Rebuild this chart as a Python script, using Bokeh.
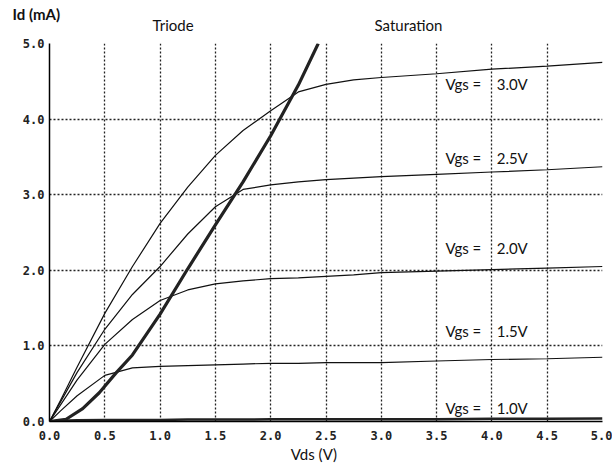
from bokeh.plotting import figure
from bokeh.models import Label, FixedTicker, Range1d, LinearAxis, PrintfTickFormatter
from bokeh.embed import file_html
from bokeh.resources import INLINE

# Vds sample points (V)
vds = [0, 0.1, 0.25, 0.5, 0.75, 1.0, 1.25, 1.5, 1.75, 2.0, 2.25, 2.5, 2.75, 3.0, 3.5, 4.0, 4.5, 5.0]
# Id (mA) for each Vgs
id_vgs30 = [0, 0.28, 0.72, 1.43, 2.05, 2.62, 3.1, 3.52, 3.85, 4.11, 4.36, 4.46, 4.52, 4.55, 4.6, 4.66, 4.7, 4.75]
id_vgs25 = [0, 0.26, 0.65, 1.22, 1.68, 2.05, 2.48, 2.84, 3.07, 3.13, 3.17, 3.2, 3.22, 3.24, 3.27, 3.3, 3.33, 3.37]
id_vgs20 = [0, 0.22, 0.55, 1.02, 1.35, 1.6, 1.74, 1.82, 1.86, 1.89, 1.9, 1.92, 1.94, 1.97, 1.99, 2.01, 2.03, 2.05]
id_vgs15 = [0, 0.14, 0.34, 0.61, 0.71, 0.73, 0.74, 0.75, 0.76, 0.77, 0.77, 0.78, 0.78, 0.78, 0.8, 0.82, 0.83, 0.85]
id_vgs10 = [0, 0.01, 0.015, 0.02, 0.02, 0.02, 0.025, 0.025, 0.025, 0.03, 0.03, 0.03, 0.03, 0.03, 0.03, 0.035, 0.035, 0.04]

# Triode / saturation boundary
vds_edge = [0, 0.15, 0.3, 0.45, 0.6, 0.75, 1.0, 1.25, 1.5, 1.75, 2.0, 2.25, 2.43]
id_edge = [0, 0.03, 0.17, 0.38, 0.64, 0.88, 1.42, 2.02, 2.6, 3.17, 3.78, 4.45, 5.0]

NB = "\u00a0"
curve_labels = ["Vgs =" + NB * 4 + "3.0V", "Vgs =" + NB * 4 + "2.5V", "Vgs =" + NB * 4 + "2.0V",
                "Vgs =" + NB * 4 + "1.5V", "Vgs =" + NB * 4 + "1.0V"]
label_y = [4.46, 3.49, 2.30, 1.20, 0.185]
label_x = 3.58

x_ticks = [0, 0.5, 1.0, 1.5, 2.0, 2.5, 3.0, 3.5, 4.0, 4.5, 5.0]
y_ticks = [0, 1, 2, 3, 4, 5]

region_pos = [1.117, 3.246]
region_names = ["Triode", "Saturation"]
xlabel_pos = [2.39]
xlabel_text = ["Vds (V)"]
ylabel_text = "Id (mA)"

LAB_FONT = "Lato"

p = figure(output_backend="svg", toolbar_location=None,
           frame_width=553, frame_height=378,
           min_border_left=49, min_border_right=10, min_border_top=43, min_border_bottom=45,
           x_range=Range1d(0, 5), y_range=Range1d(0, 5))
p.outline_line_color = None
p.background_fill_color = "white"

for ax in (p.xaxis[0], p.yaxis[0]):
    ax.axis_line_color = "black"
    ax.axis_line_width = 1.5
    ax.major_tick_out = 0
    ax.major_tick_in = 0
    ax.minor_tick_out = 0
    ax.minor_tick_in = 0
    ax.major_label_text_font = "DejaVu Sans Mono"
    ax.major_label_text_font_style = "bold"
    ax.major_label_text_font_size = "12px"
    ax.major_label_text_color = "#222222"

p.xaxis[0].ticker = FixedTicker(ticks=x_ticks)
p.yaxis[0].ticker = FixedTicker(ticks=y_ticks)
p.xaxis[0].formatter = PrintfTickFormatter(format="%.1f")
p.yaxis[0].formatter = PrintfTickFormatter(format="%.1f")
p.xaxis[0].major_label_standoff = 9
p.yaxis[0].major_label_standoff = 5


def text_axis(ticks, names, standoff):
    ax = LinearAxis(ticker=FixedTicker(ticks=ticks),
                    major_label_overrides={t: n for t, n in zip(ticks, names)})
    ax.axis_line_color = None
    ax.major_tick_line_color = None
    ax.minor_tick_line_color = None
    ax.major_tick_out = 0
    ax.major_tick_in = 0
    ax.minor_tick_out = 0
    ax.minor_tick_in = 0
    ax.major_label_standoff = standoff
    ax.major_label_text_font = LAB_FONT
    ax.major_label_text_font_size = "15px"
    ax.major_label_text_color = "#111111"
    return ax


p.add_layout(text_axis(region_pos, region_names, 10), "above")
p.add_layout(text_axis(xlabel_pos, xlabel_text, 2), "below")

p.title.text = ylabel_text
p.title.align = "left"
p.title.offset = -37
p.title.standoff = -20
p.title.vertical_align = "bottom"
p.title.text_font = LAB_FONT
p.title.text_font_size = "15px"
p.title.text_font_style = "bold"
p.title.text_color = "#111111"

for g in (p.xgrid[0], p.ygrid[0]):
    g.grid_line_color = "#222222"
    g.grid_line_dash = "2 2"
    g.grid_line_width = 1.3

for ys in (id_vgs30, id_vgs25, id_vgs20, id_vgs15):
    p.line(vds, ys, line_color="#111111", line_width=1.2)
p.line(vds, id_vgs10, line_color="#222222", line_width=2.5)
p.line(vds_edge, id_edge, line_color="#222222", line_width=3.2)

for t, y in zip(curve_labels, label_y):
    p.add_layout(Label(x=label_x, y=y, text=t, text_font=LAB_FONT, text_font_size="15px",
                       text_baseline="middle", text_color="#111111"))

open("out.html", "w").write(file_html(p, INLINE))
